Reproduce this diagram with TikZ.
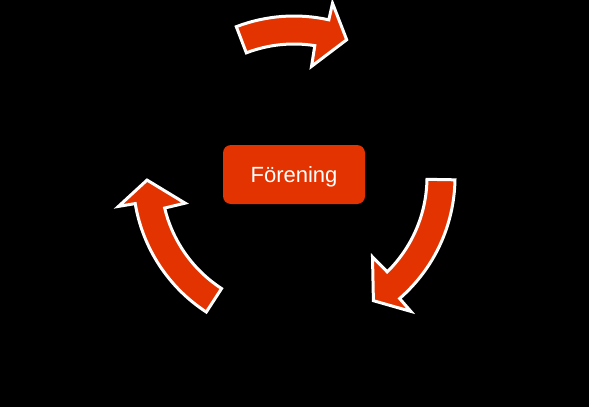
\documentclass[tikz,border=0pt]{standalone}
\usepackage{fontspec}
\setmainfont{Liberation Sans}
\usetikzlibrary{calc}
\definecolor{cyclered}{RGB}{227,51,0}

% curved arrow round (c): tail angle, inner/outer base angle, tip angle
\newcommand{\cyclearrow}[4]{%
  \draw[cycarrow]
    ($(c)+(#1:133)$) arc[start angle=#1, end angle=#2, radius=133]
    -- ($(c)+(#2:112)$) -- ($(c)+(#4:147)$) -- ($(c)+(#3:178)$)
    -- ($(c)+(#3:161)$) arc[start angle=#3, end angle=#1, radius=161]
    -- cycle;
}

\begin{document}
\begin{tikzpicture}[
    x=1pt, y=-1pt,
    cycarrow/.style={fill=cyclered, draw=white, line width=3pt},
    hub/.style={fill=cyclered, rounded corners=8pt, minimum width=142pt,
                minimum height=59pt, inner sep=0pt, text=white, text depth=0pt,
                font=\fontsize{22}{26}\selectfont}
]
    \fill[black] (0,0) rectangle (589,407);
    \useasboundingbox (0,0) rectangle (589,407);

    \coordinate (c) at (294,177);
    \node[hub] (hub) at (294,174.5) {Förening};

    % three arrows, clockwise
    \cyclearrow{-111}{-81}{-77.5}{-69}
    \cyclearrow{1}{45.5}{49}{57.3}
    \cyclearrow{123}{166.5}{170.5}{178.8}
\end{tikzpicture}
\end{document}
